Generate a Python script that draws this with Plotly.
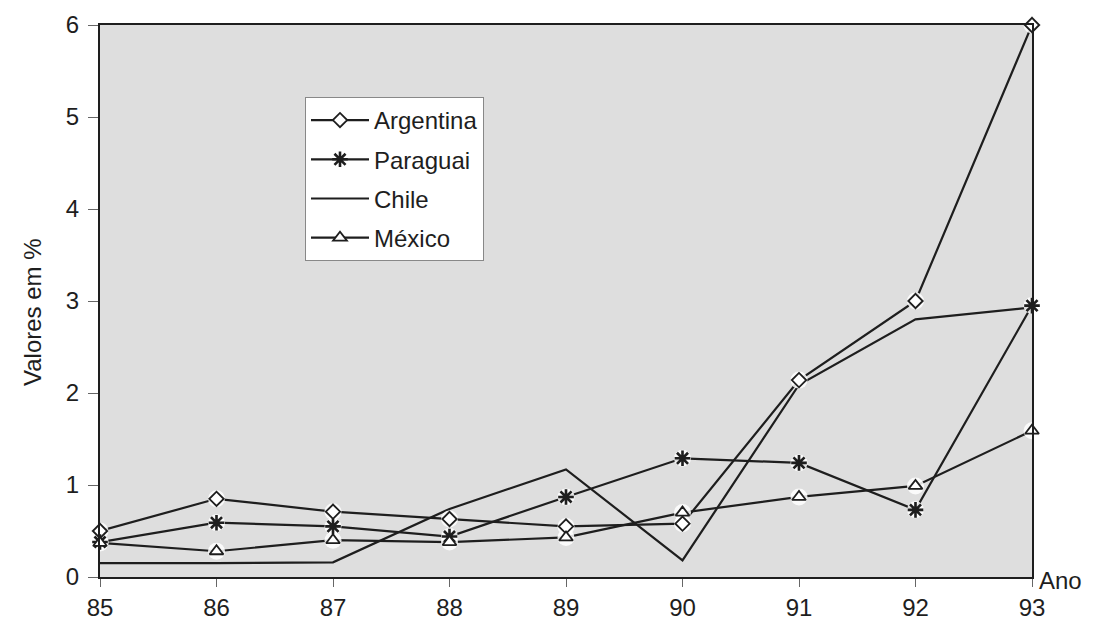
import plotly.graph_objects as go

# Years on the horizontal axis
anos = [85, 86, 87, 88, 89, 90, 91, 92, 93]

# Rates per country (%)
argentina = [0.50, 0.85, 0.71, 0.63, 0.55, 0.58, 2.14, 3.00, 6.00]
paraguai = [0.38, 0.59, 0.55, 0.44, 0.87, 1.29, 1.24, 0.73, 2.95]
chile = [0.15, 0.15, 0.16, 0.74, 1.17, 0.18, 2.09, 2.80, 2.93]
mexico = [0.37, 0.28, 0.40, 0.38, 0.43, 0.70, 0.87, 0.99, 1.59]

y_ticks = [0, 1, 2, 3, 4, 5, 6]

FONT = "Liberation Sans, Arial, sans-serif"
INK = "#1e1e1e"
FS = 24

fig = go.Figure()

series = [
    ("Argentina", argentina, dict(symbol="diamond", size=11, color="white",
                                  line=dict(color=INK, width=1.8))),
    ("Paraguai", paraguai, dict(symbol="asterisk-open", size=13, color=INK,
                                line=dict(color=INK, width=2.6))),
    ("Chile", chile, None),
    ("México", mexico, dict(symbol="triangle-up", size=12, color="white",
                            line=dict(color=INK, width=1.8))),
]

# Lines (these also carry the legend entries)
for i, (nome, vals, mk) in enumerate(series):
    kw = dict(
        x=anos, y=vals, name=nome, legendgroup=f"g{i}",
        line=dict(color=INK, width=2.2), cliponaxis=False,
    )
    if mk is None:
        kw["mode"] = "lines"
    else:
        kw["mode"] = "lines+markers"
        kw["marker"] = mk
    fig.add_trace(go.Scatter(**kw))

# White halo behind each marker, so the lines break around the symbols
for i, (nome, vals, mk) in enumerate(series):
    if mk is None:
        continue
    fig.add_trace(go.Scatter(
        x=anos, y=vals, mode="markers", showlegend=False, hoverinfo="skip",
        legendgroup=f"g{i}", cliponaxis=False,
        marker=dict(symbol="circle", size=17, color="rgba(255,255,255,0.85)",
                    line=dict(width=0)),
    ))

# Symbols on top
for i, (nome, vals, mk) in enumerate(series):
    if mk is None:
        continue
    fig.add_trace(go.Scatter(
        x=anos, y=vals, mode="markers", showlegend=False, name=nome,
        legendgroup=f"g{i}", cliponaxis=False, marker=mk,
    ))

fig.update_layout(
    width=1102, height=623,
    margin=dict(l=100, r=70, t=25, b=46),
    paper_bgcolor="white",
    plot_bgcolor="#dedede",
    font=dict(family=FONT, size=FS, color=INK),
    showlegend=True,
    legend=dict(
        x=(305 - 100) / 932, y=(577 - 97) / 552,
        xanchor="left", yanchor="top",
        bgcolor="white", bordercolor="#888888", borderwidth=1,
        font=dict(family=FONT, size=FS, color=INK),
        tracegroupgap=5,
        itemwidth=58,
    ),
    xaxis=dict(
        range=[85, 93], tickvals=anos, ticktext=[str(a) for a in anos],
        showgrid=False, zeroline=False, automargin=False,
        showline=True, linecolor=INK, linewidth=2, mirror=True,
        ticks="outside", ticklen=8, tickcolor="#666666", tickwidth=1,
        ticklabelstandoff=0,
        tickfont=dict(family=FONT, size=FS, color=INK),
    ),
    yaxis=dict(
        range=[0, 6], tickvals=y_ticks,
        showgrid=False, zeroline=False, automargin=False,
        showline=True, linecolor=INK, linewidth=2, mirror=True,
        ticks="outside", ticklen=10, tickcolor="#666666", tickwidth=1,
        ticklabelstandoff=4,
        tickfont=dict(family=FONT, size=FS, color=INK),
    ),
    annotations=[
        dict(text="Valores em %", textangle=-90, xref="paper", yref="paper",
             x=-(100 - 32) / 932, y=(577 - 312) / 552,
             xanchor="center", yanchor="middle",
             showarrow=False, font=dict(family=FONT, size=FS, color=INK)),
        dict(text="Ano", xref="paper", yref="paper",
             x=(1037 - 100) / 932, y=(577 - 580) / 552,
             xanchor="left", yanchor="middle",
             showarrow=False, font=dict(family=FONT, size=FS, color=INK)),
    ],
)

fig.write_html("out.html")
